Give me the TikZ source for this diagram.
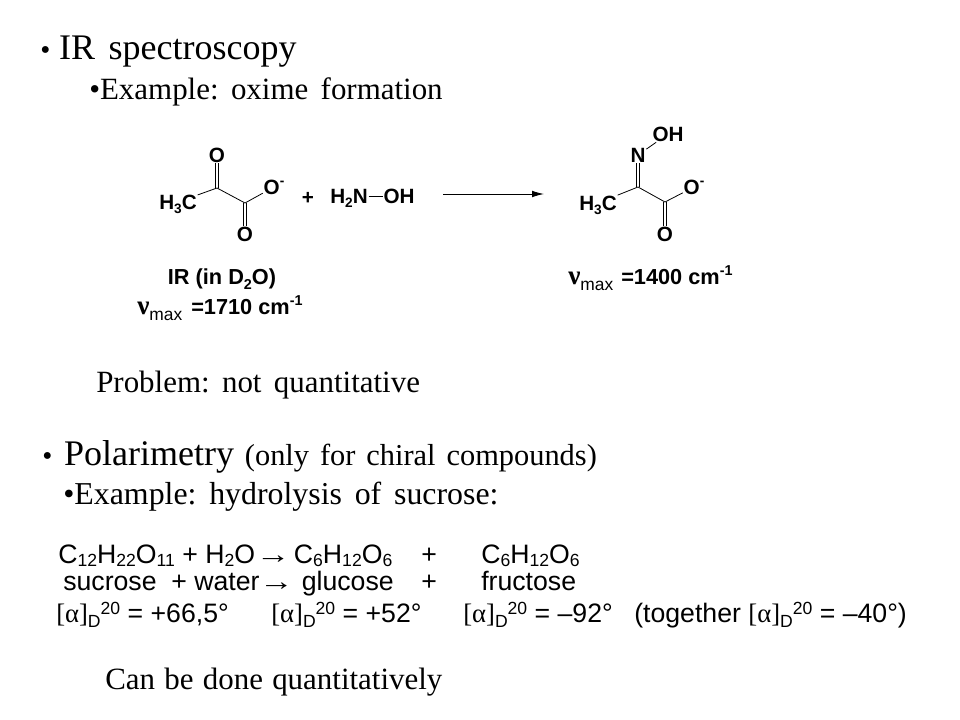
\documentclass[tikz,border=0pt]{standalone}
\usepackage{fontspec}
\setmainfont{Liberation Serif}
\setsansfont{Liberation Sans}
\usetikzlibrary{arrows,arrows.meta,positioning}
\tikzstyle{line}=[inner sep=0pt, anchor=base west, font=\fontsize{23.2}{28}\selectfont\frenchspacing\setlength{\spaceskip}{.4em}]
\tikzstyle{head}=[line, font=\fontsize{27}{32}\selectfont\frenchspacing\setlength{\spaceskip}{.38em}]
\tikzstyle{eqn}=[inner sep=0pt, anchor=base west, font=\sffamily\fontsize{20}{24}\selectfont]
\tikzstyle{atom}=[inner sep=0.5pt, text height=11pt, text depth=0pt, font=\sffamily\bfseries\fontsize{15.5}{18}\selectfont]
\tikzstyle{chem}=[inner sep=0pt, anchor=base west, font=\sffamily\bfseries\fontsize{16.3}{19}\selectfont]
\tikzstyle{bond}=[draw=black, line width=0.6pt]
\newcommand{\lowsub}[2][.22em]{\raisebox{-#1}{\scalebox{.66}{#2}}}
\newcommand{\highsup}[1]{\raisebox{.42em}{\scalebox{.66}{#1}}}
\newcommand{\rot}[0]{{\rmfamily[α]}\lowsub{D}\raisebox{.28em}{\scalebox{.66}{20}}}
\newcommand{\numax}[0]{\scalebox{1.25}{\rmfamily ν}\raisebox{-.25em}{\scalebox{.8}{\mdseries max}}}
\newcommand{\yields}[0]{\scalebox{1.3}[1]{\rmfamily→}}
\begin{document}
\begin{tikzpicture}[x=0.75pt, y=-0.75pt]
        \useasboundingbox (0,0) rectangle (960,720);
        %
        \node at (40,60) [head] (ir) {\scalebox{.8}{•}\hspace{-3.7pt} IR spectroscopy};
        \node at (89,100) [line] (oxime) {•Example: oxime formation};
        \node at (96,392) [line] (problem) {Problem: not quantitative};
        \node at (42,465) [head] (polar) {\scalebox{.8}{•}\hspace{-1.5pt} Polarimetry{\fontsize{22.8}{28}\selectfont\setlength{\spaceskip}{.36em} (only for chiral compounds)}};
        \node at (63,504) [line, font=\fontsize{23.9}{28}\selectfont\frenchspacing\setlength{\spaceskip}{.4em}] (hydro) {•Example: hydrolysis of sucrose:};
        \node at (105,689) [line, font=\fontsize{23.2}{28}\selectfont\frenchspacing\setlength{\spaceskip}{.3em}] (quant) {Can be done quantitatively};
        %
        \node at (58,563) [eqn] (formula) {C\lowsub[.12em]{12}H\lowsub[.12em]{22}O\lowsub[.12em]{11} + H\lowsub[.12em]{2}O\hspace{-5pt} \yields{}\hspace{-3pt} C\lowsub[.12em]{6}H\lowsub[.12em]{12}O\lowsub[.12em]{6}};
        \node at (421,563) [eqn] (plusa) {+};
        \node at (481,563) [eqn] (fruca) {C\lowsub[.12em]{6}H\lowsub[.12em]{12}O\lowsub[.12em]{6}};
        \node at (63,590) [eqn] (names) {sucrose\; + water\hspace{-6pt} \yields{}\hspace{.5pt} glucose};
        \node at (421,590) [eqn] (plusb) {+};
        \node at (481,590) [eqn] (frucb) {fructose};
        \node at (56,622) [eqn] (rota) {\rot{} = +66,5°};
        \node at (271,622) [eqn] (rotb) {\rot{} = +52°};
        \node at (463,622) [eqn] (rotc) {\rot{} = –92°};
        \node at (634,622) [eqn] (rotd) {(together \rot{} = –40°)};
        %
        \coordinate (ca) at (217,188);
        \coordinate (cb) at (245,203);
        \node at (217,155) [atom] (oa) {O};
        \node at (178,202) [atom] (mea) {H\lowsub{3}C};
        \node at (274,187) [atom] (ob) {O\highsup{-}};
        \node at (245,234) [atom] (oc) {O};
        \draw[bond] (mea) -- (ca) -- (cb) -- (ob);
        \draw[bond] ([xshift=-1.3pt]oa.south) -- ([xshift=-1.3pt]ca);
        \draw[bond] ([xshift=1.3pt]oa.south) -- ([xshift=1.3pt]ca);
        \draw[bond] ([xshift=-1.3pt]cb) -- ([xshift=-1.3pt]oc.north);
        \draw[bond] ([xshift=1.3pt]cb) -- ([xshift=1.3pt]oc.north);
        \node at (308,197) [atom] (plus) {+};
        \node at (349,196) [atom] (amine) {H\lowsub{2}N};
        \node at (399,196) [atom] (oh) {OH};
        \draw[bond] (amine) -- (oh);
        \node at (137,315) [chem] (nua) {\numax};
        \node at (222,285) [chem, anchor=base] (irlab) {IR (in D\lowsub{2}O)};
        \node at (191,315) [chem] (nub) {=1710 cm\highsup{-1}};
        %
        \coordinate (arrowa) at (443,194);
        \coordinate (arrowb) at (544,194);
        \draw[-{Latex[length=9pt,width=5pt]}, line width=0.7pt] (arrowa) -- (arrowb);
        %
        \coordinate (cc) at (638,187);
        \coordinate (cd) at (665,202);
        \node at (668,134) [atom] (ohb) {OH};
        \node at (638,155) [atom] (nb) {N};
        \node at (598,203) [atom] (meb) {H\lowsub{3}C};
        \node at (694,187) [atom] (od) {O\highsup{-}};
        \node at (665,234) [atom] (oe) {O};
        \draw[bond] (nb) -- (ohb);
        \draw[bond] (meb) -- (cc) -- (cd) -- (od);
        \draw[bond] ([xshift=-1.3pt]nb.south) -- ([xshift=-1.3pt]cc);
        \draw[bond] ([xshift=1.3pt]nb.south) -- ([xshift=1.3pt]cc);
        \draw[bond] ([xshift=-1.3pt]cd) -- ([xshift=-1.3pt]oe.north);
        \draw[bond] ([xshift=1.3pt]cd) -- ([xshift=1.3pt]oe.north);
        \node at (568,285) [chem] (nuc) {\numax};
        \node at (621,285) [chem] (nud) {=1400 cm\highsup{-1}};
        %
      \end{tikzpicture}
\end{document}
